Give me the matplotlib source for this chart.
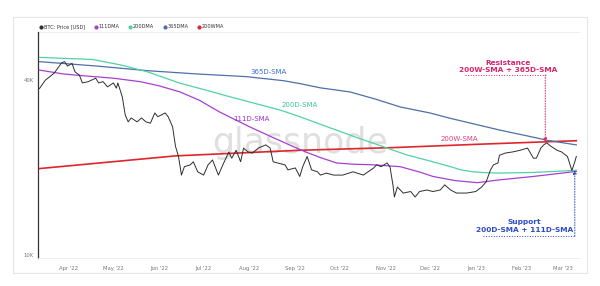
import matplotlib
matplotlib.use("Agg")
import matplotlib.pyplot as plt
import matplotlib.dates as mdates
from matplotlib.lines import Line2D
from matplotlib.patches import Rectangle
import numpy as np
import pandas as pd

# BTC price (USD)
price_dates = [
    "2022-03-12", "2022-03-16", "2022-03-19", "2022-03-22", "2022-03-27", "2022-03-29", "2022-03-31",
    "2022-04-03", "2022-04-05", "2022-04-08", "2022-04-10", "2022-04-14", "2022-04-19", "2022-04-21",
    "2022-04-24", "2022-04-27", "2022-05-01", "2022-05-03", "2022-05-04", "2022-05-07", "2022-05-09",
    "2022-05-11", "2022-05-13", "2022-05-17", "2022-05-20", "2022-05-23", "2022-05-26", "2022-05-29",
    "2022-05-31", "2022-06-05", "2022-06-07", "2022-06-10", "2022-06-12", "2022-06-14", "2022-06-16",
    "2022-06-18", "2022-06-22", "2022-06-24", "2022-06-27", "2022-07-01", "2022-07-04", "2022-07-07",
    "2022-07-11", "2022-07-14", "2022-07-18", "2022-07-20", "2022-07-23", "2022-07-26", "2022-07-28",
    "2022-07-31", "2022-08-03", "2022-08-07", "2022-08-12", "2022-08-15", "2022-08-17", "2022-08-20",
    "2022-08-25", "2022-08-27", "2022-09-01", "2022-09-04", "2022-09-06", "2022-09-09", "2022-09-12",
    "2022-09-16", "2022-09-18", "2022-09-22", "2022-09-27", "2022-10-03", "2022-10-10", "2022-10-17",
    "2022-10-24", "2022-10-26", "2022-10-29", "2022-11-02", "2022-11-04", "2022-11-06", "2022-11-07",
    "2022-11-09", "2022-11-13", "2022-11-18", "2022-11-21", "2022-11-24", "2022-11-29", "2022-12-03",
    "2022-12-08", "2022-12-11", "2022-12-15", "2022-12-19", "2022-12-26", "2023-01-01", "2023-01-05",
    "2023-01-08", "2023-01-11", "2023-01-13", "2023-01-16", "2023-01-17", "2023-01-21", "2023-01-26",
    "2023-01-31", "2023-02-05", "2023-02-07", "2023-02-09", "2023-02-11", "2023-02-14", "2023-02-16",
    "2023-02-18", "2023-02-21", "2023-02-25", "2023-02-28", "2023-03-04", "2023-03-07", "2023-03-09",
    "2023-03-10",
]
price = [
    37400, 40000, 41100, 42300, 45900, 46300, 44700,
    45700, 42700, 41600, 39100, 39500, 40600, 39100,
    39500, 37900, 39100, 37500, 39100, 35000, 30300,
    28700, 29600, 28700, 29600, 28700, 28400, 30800,
    29900, 30800, 29900, 27600, 23600, 21800, 18800,
    20100, 20400, 20900, 19300, 18800, 20400, 21200,
    18800, 20400, 22600, 21500, 22900, 20900, 23300,
    22600, 22400, 23300, 23900, 23300, 20900, 20700,
    20400, 19600, 19900, 18600, 20100, 21800, 19600,
    19300, 18800, 19100, 18800, 18800, 19300, 18800,
    19900, 20400, 20100, 20700, 20100, 17400, 15800,
    17100, 16300, 16500, 15800, 16500, 16700, 16500,
    16700, 17400, 16700, 16300, 16300, 16500, 17100,
    17800, 19600, 20400, 20700, 22000, 22400, 22600,
    22900, 23300, 22400, 21500, 21500, 23300, 23900,
    24300, 23600, 22900, 22600, 21800, 19500, 20900,
    21800,
]

sma111_dates = ["2022-03-12", "2022-03-28", "2022-04-08", "2022-05-01", "2022-05-19", "2022-06-01",
                "2022-06-15", "2022-06-28", "2022-07-12", "2022-08-01", "2022-08-15", "2022-08-28",
                "2022-09-08", "2022-09-18", "2022-09-29", "2022-10-10", "2022-10-24", "2022-11-11",
                "2022-11-25", "2022-12-03", "2022-12-18", "2023-01-02", "2023-01-17", "2023-02-09",
                "2023-03-08", "2023-03-10"]
sma111 = [43300, 42000, 41500, 40600, 39500, 38200,
          36400, 34100, 31000, 27600, 25600, 23900,
          22600, 21600, 20700, 20500, 20400, 20100,
          19200, 18600, 18000, 17700, 18100, 18600,
          19300, 19350]

sma200_dates = ["2022-03-12", "2022-04-17", "2022-05-06", "2022-05-24", "2022-06-03", "2022-06-15",
                "2022-07-02", "2022-07-19", "2022-08-05", "2022-08-22", "2022-09-04", "2022-09-26",
                "2022-10-12", "2022-10-30", "2022-11-15", "2022-12-03", "2022-12-15", "2022-12-22",
                "2022-12-30", "2023-01-05", "2023-01-17", "2023-02-09", "2023-03-08", "2023-03-10"]
sma200 = [47900, 47100, 45100, 42700, 41000, 39000,
          37000, 35000, 33200, 31500, 29900, 27200,
          25400, 23600, 22100, 20900, 20100, 19600,
          19300, 19200, 19100, 19200, 19500, 19550]

sma365_dates = ["2022-03-12", "2022-04-20", "2022-05-24", "2022-06-26", "2022-07-30", "2022-08-24",
                "2022-09-04", "2022-09-18", "2022-10-08", "2022-10-25", "2022-11-11", "2022-12-01",
                "2022-12-15", "2023-01-17", "2023-02-09", "2023-02-18", "2023-03-10"]
sma365 = [46300, 44700, 43100, 42000, 41100, 39800, 38900, 37600, 36400, 34400, 32300, 30800,
          29500, 26900, 25400, 24800, 23900]

wma200_dates = ["2022-03-12", "2022-06-12", "2022-09-04", "2022-11-07", "2023-01-01", "2023-02-18",
                "2023-03-10"]
wma200 = [19800, 21900, 22900, 23400, 24000, 24500, 24700]

month_ticks = pd.date_range("2022-04-01", "2023-03-01", freq="MS")
month_labels = [d.strftime("%b '%y") for d in month_ticks]
y_ticks = [10000, 40000]
y_labels = ["10K", "40K"]

resistance_date = pd.Timestamp("2023-02-17")
support_date = pd.Timestamp("2023-03-09")

c_price = "#2e2e2e"
c_111 = "#a83fd0"
c_200 = "#4ed3a6"
c_365 = "#4d70a8"
c_200w = "#e0262c"

fig = plt.figure(figsize=(6, 2.86), dpi=100, facecolor="white")
fig.patches.append(Rectangle((13 / 600, 1 - 273 / 286), 574 / 600, 256 / 286,
                             transform=fig.transFigure, facecolor="white",
                             edgecolor="#e6e6e6", lw=0.8, zorder=-5))
ax = fig.add_axes([38 / 600, 28 / 286, 542 / 600, 226 / 286])
ax.set_zorder(2)
ax.set_facecolor("none")

to_dt = pd.to_datetime
ax.plot(to_dt(wma200_dates), wma200, color=c_200w, lw=1.2, zorder=3)
ax.plot(to_dt(sma365_dates), sma365, color=c_365, lw=0.9, zorder=3)
ax.plot(to_dt(sma200_dates), sma200, color=c_200, lw=0.9, zorder=3)
ax.plot(to_dt(sma111_dates), sma111, color=c_111, lw=0.9, zorder=3)
ax.plot(to_dt(price_dates), price, color=c_price, lw=0.7, zorder=4)

ax.set_yscale("log")
ax.set_ylim(9730, 58600)
ax.set_xlim(pd.Timestamp("2022-03-11"), pd.Timestamp("2023-03-12 12:00"))
ax.set_yticks(y_ticks)
ax.set_yticklabels(y_labels)
ax.yaxis.set_minor_locator(matplotlib.ticker.NullLocator())
ax.set_xticks(month_ticks)
ax.set_xticklabels(month_labels)
ax.tick_params(axis="both", length=0, labelsize=3.8, colors="#777777")
ax.tick_params(axis="x", pad=6)
ax.tick_params(axis="y", pad=3)
for side in ["top", "right"]:
    ax.spines[side].set_visible(False)
ax.spines["left"].set_color("#333333")
ax.spines["left"].set_linewidth(0.9)
ax.spines["bottom"].set_color("#ececec")
ax.spines["bottom"].set_linewidth(0.6)
ax.axhline(58600, color="#ececec", lw=0.6)

# watermark
ax.text(0.483, 0.509, "glassnode", transform=ax.transAxes, ha="center", va="center",
        fontsize=25, color="#d8d8d8", alpha=0.8, zorder=1)

# series labels
lab = dict(transform=ax.transAxes, ha="center", va="center", fontsize=5, zorder=5)
ax.text(0.426, 0.824, "365D-SMA", color="#3a6fd8", **lab)
ax.text(0.483, 0.677, "200D-SMA", color="#3cc49b", **lab)
ax.text(0.394, 0.614, "111D-SMA", color="#9a30d0", **lab)
ax.text(0.777, 0.525, "200W-SMA", color="#e0407a", **lab)

# resistance callout
c_res = "#d6246e"
ax.text(0.867, 0.864, "Resistance", transform=ax.transAxes, ha="center", va="center",
        fontsize=5.3, fontweight="bold", color=c_res)
ax.text(0.867, 0.832, "200W-SMA + 365D-SMA", transform=ax.transAxes, ha="center", va="center",
        fontsize=5.3, fontweight="bold", color=c_res)
ax.plot([0.788, 0.939], [0.81, 0.81], transform=ax.transAxes, color=c_res, lw=0.7, ls=":")
res_val = np.interp(mdates.date2num(resistance_date), mdates.date2num(to_dt(wma200_dates)), wma200)
ax.annotate("", xy=(resistance_date, res_val), xytext=(resistance_date, 0.81),
            xycoords="data", textcoords=("data", "axes fraction"),
            arrowprops=dict(arrowstyle="-|>", color=c_res, lw=0.7, ls=":",
                            mutation_scale=5, shrinkA=0, shrinkB=0), zorder=6)

# support callout
c_sup = "#2b4bc4"
ax.text(0.897, 0.159, "Support", transform=ax.transAxes, ha="center", va="center",
        fontsize=5.3, fontweight="bold", color=c_sup)
ax.text(0.897, 0.124, "200D-SMA + 111D-SMA", transform=ax.transAxes, ha="center", va="center",
        fontsize=5.3, fontweight="bold", color=c_sup)
ax.plot([0.821, 0.991], [0.097, 0.097], transform=ax.transAxes, color=c_sup, lw=0.7, ls=":")
sup_val = np.interp(mdates.date2num(support_date), mdates.date2num(to_dt(sma200_dates)), sma200)
ax.annotate("", xy=(support_date, sup_val), xytext=(support_date, 0.097),
            xycoords="data", textcoords=("data", "axes fraction"),
            arrowprops=dict(arrowstyle="-|>", color=c_sup, lw=0.7, ls=":",
                            mutation_scale=5, shrinkA=0, shrinkB=0), zorder=6)

# legend
handles = [Line2D([], [], ls="none", marker="o", ms=2.0, color=c) for c in
           [c_price, c_111, c_200, c_365, c_200w]]
names = ["BTC: Price [USD]", "111DMA", "200DMA", "365DMA", "200WMA"]
fig.legend(handles, names, loc="center left", bbox_to_anchor=(0.058, 0.906), ncol=5,
           frameon=False, fontsize=3.6, handlelength=0.6, handletextpad=0.3,
           columnspacing=1.8, labelcolor="#333333")

fig.savefig("out.png", dpi=100, facecolor="white")
